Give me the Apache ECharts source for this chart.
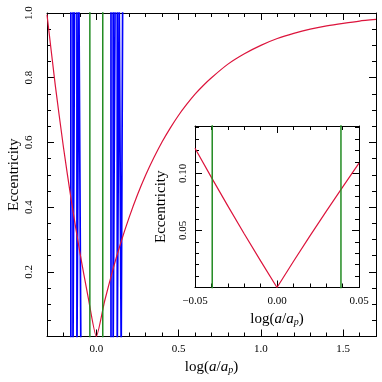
<!DOCTYPE html>
<html>
<head>
<meta charset="utf-8">
<script src="https://cdn.jsdelivr.net/npm/echarts@6/dist/echarts.min.js"></script>
<style>
html, body { margin: 0; padding: 0; background: #fff; }
#chart { width: 382px; height: 382px; }
</style>
</head>
<body>
<div id="chart"></div>
<script>
// main panel, red curve: log(a/ap) vs eccentricity
var mainX = [-0.3, -0.25, -0.2, -0.15, -0.1, -0.05, 0, 0.05, 0.1, 0.15, 0.2, 0.25, 0.3, 0.35, 0.4, 0.45,
             0.5, 0.55, 0.6, 0.65, 0.7, 0.8, 0.9, 1.0, 1.1, 1.2, 1.3, 1.4, 1.5, 1.6, 1.7];
var mainE = [0.995, 0.778, 0.585, 0.413, 0.259, 0.122, 0, 0.109, 0.206, 0.292, 0.369, 0.438, 0.499, 0.553, 0.602, 0.645,
             0.684, 0.718, 0.749, 0.776, 0.80, 0.842, 0.874, 0.90, 0.921, 0.937, 0.95, 0.96, 0.968, 0.975, 0.98];
// inset, zoom on the V
var insetX = [-0.05, -0.04, -0.03, -0.02, -0.01, 0, 0.01, 0.02, 0.03, 0.04, 0.05];
var insetE = [0.122, 0.0965, 0.0715, 0.0471, 0.0233, 0, 0.0228, 0.045, 0.0667, 0.088, 0.109];
// blue and green vertical lines
var blueX = [-0.155, -0.142, -0.132, -0.118, -0.106, -0.094, 0.089, 0.102, 0.114, 0.127, 0.139, 0.151, 0.160];
var greenX = [-0.0395, 0.039];

var mainXTicks = [0, 0.5, 1, 1.5];
var mainYTicks = [0.2, 0.4, 0.6, 0.8, 1.0];
var insetXTicks = [-0.05, 0, 0.05];
var insetYTicks = [0.05, 0.10];

var FONT = 'Liberation Serif';

function range(a, b, step){
  var out = [];
  var n = Math.round((b - a) / step);
  for(var i=0;i<=n;i++) out.push(+(a + i*step).toFixed(4));
  return out;
}

function mkAxis(grid, pos, min, max, ticks, len, withLine, label){
  return {
    type: 'value', gridIndex: grid, position: pos, min: min, max: max,
    axisLine: {show: withLine, onZero: false, lineStyle: {color: '#000', width: 1}},
    axisTick: {show: true, inside: true, length: len, customValues: ticks, lineStyle: {color: '#000', width: 1}},
    axisLabel: label ? Object.assign({customValues: ticks, color: '#000', fontFamily: FONT, fontSize: 11}, label) : {show: false},
    splitLine: {show: false}
  };
}

function pairs(xs, ys){
  var d = [];
  for(var i=0;i<xs.length;i++) d.push([xs[i], ys[i]]);
  return d;
}

function vlines(xs, lo, hi){
  var d = [];
  for(var i=0;i<xs.length;i++){
    if(i%2==0){ d.push([xs[i], lo]); d.push([xs[i], hi]); }
    else{ d.push([xs[i], hi]); d.push([xs[i], lo]); }
  }
  return d;
}

var logName = '{n|log(}{i|a}{n|/}{i|a}{s|p}{n|)}';
var logRich = {
  n: {fontFamily: FONT, fontSize: 15, color: '#000'},
  i: {fontFamily: FONT, fontSize: 15, fontStyle: 'italic', color: '#000'},
  s: {fontFamily: FONT, fontSize: 10, fontStyle: 'italic', color: '#000', padding: [7, 0, 0, 0]}
};
var nameStyle = {fontFamily: FONT, fontSize: 15, color: '#000'};

var mxMinor = range(-0.3, 1.7, 0.1), myMinor = range(0, 1, 0.05);
var ixMinor = range(-0.05, 0.05, 0.01), iyMinor = range(0, 0.14, 0.01);

var xAxes = [
  Object.assign(mkAxis(0, 'bottom', -0.3, 1.7, mainXTicks, 7, true,
    {margin: 7, formatter: function(v){ return v.toFixed(1); }}),
    {name: logName, nameLocation: 'middle', nameGap: 22, nameTextStyle: {rich: logRich}}),
  mkAxis(0, 'bottom', -0.3, 1.7, mxMinor, 4, false, null),
  mkAxis(0, 'top', -0.3, 1.7, mainXTicks, 7, true, null),
  mkAxis(0, 'top', -0.3, 1.7, mxMinor, 4, false, null),
  Object.assign(mkAxis(1, 'bottom', -0.05, 0.05, insetXTicks, 7, true,
    {margin: 8, formatter: function(v){ return v < 0 ? '\u2212' + Math.abs(v).toFixed(2) : v.toFixed(2); }}),
    {name: logName, nameLocation: 'middle', nameGap: 23, nameTextStyle: {rich: logRich}}),
  mkAxis(1, 'bottom', -0.05, 0.05, ixMinor, 4, false, null),
  mkAxis(1, 'top', -0.05, 0.05, insetXTicks, 7, true, null),
  mkAxis(1, 'top', -0.05, 0.05, ixMinor, 4, false, null)
];

var yAxes = [
  Object.assign(mkAxis(0, 'left', 0, 1, mainYTicks, 7, true,
    {margin: 12, rotate: 90, formatter: function(v){ return v.toFixed(1); }}),
    {name: 'Eccentricity', nameLocation: 'middle', nameGap: 25, nameMoveOverlap: false, nameTextStyle: nameStyle}),
  mkAxis(0, 'left', 0, 1, myMinor, 4, false, null),
  mkAxis(0, 'right', 0, 1, mainYTicks, 7, true, null),
  mkAxis(0, 'right', 0, 1, myMinor, 4, false, null),
  Object.assign(mkAxis(1, 'left', 0, 0.1415, insetYTicks, 7, true,
    {margin: 6, rotate: 90, formatter: function(v){ return v.toFixed(2); }}),
    {name: 'Eccentricity', nameLocation: 'middle', nameGap: 26, nameMoveOverlap: false, nameTextStyle: nameStyle}),
  mkAxis(1, 'left', 0, 0.1415, iyMinor, 4, false, null),
  mkAxis(1, 'right', 0, 0.1415, insetYTicks, 7, true, null),
  mkAxis(1, 'right', 0, 0.1415, iyMinor, 4, false, null)
];

var myChart = echarts.init(document.getElementById('chart'), null, {renderer: 'canvas'});
var option = {
  animation: false,
  backgroundColor: '#fff',
  grid: [
    {left: 47, right: 6, top: 13, bottom: 45.5, show: false, containLabel: false, outerBoundsMode: 'none'},
    {left: 195, right: 23, top: 126, bottom: 94.5, show: true, backgroundColor: '#fff', borderWidth: 0,
      containLabel: false, outerBoundsMode: 'none'}
  ],
  xAxis: xAxes,
  yAxis: yAxes,
  series: [
    {type: 'line', xAxisIndex: 0, yAxisIndex: 0, data: vlines(blueX, -0.05, 1.05), showSymbol: false,
      lineStyle: {color: '#0000ff', width: 1.7}, z: 2},
    {type: 'line', xAxisIndex: 0, yAxisIndex: 0, data: pairs(mainX, mainE), showSymbol: false, smooth: 0.2,
      lineStyle: {color: '#dc143c', width: 1.2}, z: 3},
    {type: 'line', xAxisIndex: 0, yAxisIndex: 0, data: vlines(greenX, -0.05, 1.05), showSymbol: false,
      lineStyle: {color: '#228b22', width: 1.5}, z: 4},
    {type: 'line', xAxisIndex: 4, yAxisIndex: 4, data: pairs(insetX, insetE), showSymbol: false,
      lineStyle: {color: '#dc143c', width: 1.2}, z: 5},
    {type: 'line', xAxisIndex: 4, yAxisIndex: 4, data: vlines(greenX, -0.05, 0.2), showSymbol: false,
      lineStyle: {color: '#228b22', width: 1.5}, z: 6}
  ]
};
myChart.setOption(option);
</script>
</body>
</html>
